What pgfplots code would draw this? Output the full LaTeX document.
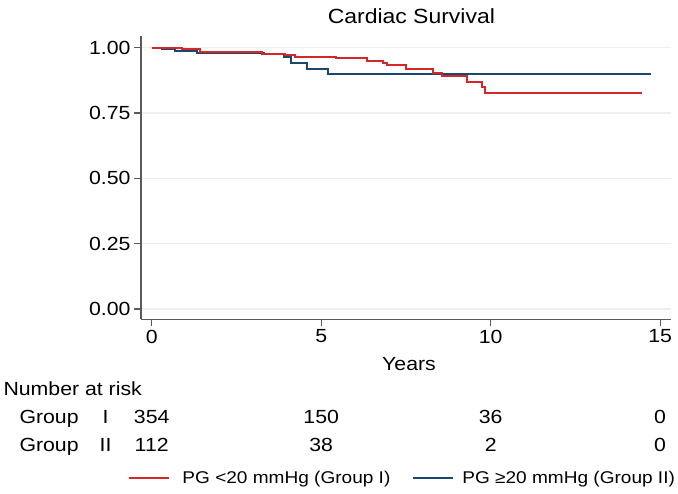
\documentclass[border=0pt]{standalone}
\usepackage{fontspec}
\setmainfont{Liberation Sans}[FakeStretch=1.12]
\usepackage{pgfplots}
\pgfplotsset{compat=1.18}
\definecolor{kmred}{RGB}{214,39,40}
\definecolor{kmblue}{RGB}{26,71,111}
\definecolor{axgray}{RGB}{90,90,90}

\begin{document}
\begin{tikzpicture}[font=\fontsize{19}{22}\selectfont]
\useasboundingbox (-141pt,-174.7pt) rectangle (537pt,319.3pt);
\begin{axis}[
  scale only axis, width=530pt, height=283.3pt,
  anchor=south west, at={(0pt,0pt)},
  xmin=-0.316, xmax=15.32, ymin=-0.039, ymax=1.044,
  axis x line*=bottom, axis y line*=left,
  axis line style={draw=axgray, line width=1.3pt},
  xtick={0,5,10,15}, ytick={0,0.25,0.5,0.75,1},
  tick align=outside, major tick length=7pt,
  tick style={draw=axgray, line width=1.3pt},
  yticklabel style={/pgf/number format/.cd, fixed, fixed zerofill, precision=2},
  /pgf/number format/assume math mode=true,
  ymajorgrids, grid style={draw=gray!13, line width=1.2pt},
  clip=false,
  legend columns=2,
  legend cell align=left,
  legend image code/.code={\draw[#1] (0pt,0pt) -- (40pt,0pt);},
  legend style={draw=none, fill=none, inner sep=0pt, at={(-0.024,-0.560)}, anchor=west,
    font=\fontsize{17}{20}\selectfont,
    nodes={inner xsep=0pt},
    /tikz/column 1/.style={column sep=12pt},
    /tikz/column 2/.style={column sep=22pt},
    /tikz/column 3/.style={column sep=8pt}},
]
\addlegendimage{kmred, line width=2pt}
\addlegendentry{PG <20 mmHg (Group I)}
\addlegendimage{kmblue, line width=2pt}
\addlegendentry{PG ≥20 mmHg (Group II)}

% Group II (PG >= 20 mmHg)
\addplot[const plot mark left, kmblue, line width=2pt, forget plot] coordinates {
  (0,1.000) (0.29,0.994) (0.69,0.988) (1.33,0.978) (3.30,0.974) (3.90,0.962)
  (4.10,0.942) (4.59,0.919) (5.21,0.899) (14.73,0.899)
};
% Group I (PG < 20 mmHg)
\addplot[const plot mark left, kmred, line width=2pt, forget plot] coordinates {
  (0,1.000) (0.88,0.994) (1.42,0.982) (3.24,0.975) (3.93,0.971) (4.23,0.965)
  (5.44,0.960) (6.34,0.948) (6.83,0.942) (6.95,0.933) (7.50,0.919) (8.29,0.904)
  (8.55,0.891) (9.29,0.869) (9.73,0.848) (9.83,0.825) (14.45,0.825)
};

\node[anchor=base] at (axis cs:7.66,1.090) {\fontsize{20.5}{24}\selectfont Cardiac Survival};
\node[anchor=base] at (axis cs:7.59,-0.233) {Years};
\node[anchor=base west, inner sep=0pt] at (axis cs:-4.378,-0.329) {Number at risk};
\node[anchor=base west, inner sep=0pt] at (axis cs:-3.906,-0.437) {Group};
\node[anchor=base west, inner sep=0pt] at (axis cs:-3.906,-0.546) {Group};
\node[anchor=base] at (axis cs:-1.36,-0.437) {I};
\node[anchor=base] at (axis cs:-1.36,-0.546) {II};
\node[anchor=base] at (axis cs:0,-0.437) {354};
\node[anchor=base] at (axis cs:5,-0.437) {150};
\node[anchor=base] at (axis cs:10,-0.437) {36};
\node[anchor=base] at (axis cs:15,-0.437) {0};
\node[anchor=base] at (axis cs:0,-0.546) {112};
\node[anchor=base] at (axis cs:5,-0.546) {38};
\node[anchor=base] at (axis cs:10,-0.546) {2};
\node[anchor=base] at (axis cs:15,-0.546) {0};
\end{axis}
\end{tikzpicture}
\end{document}
